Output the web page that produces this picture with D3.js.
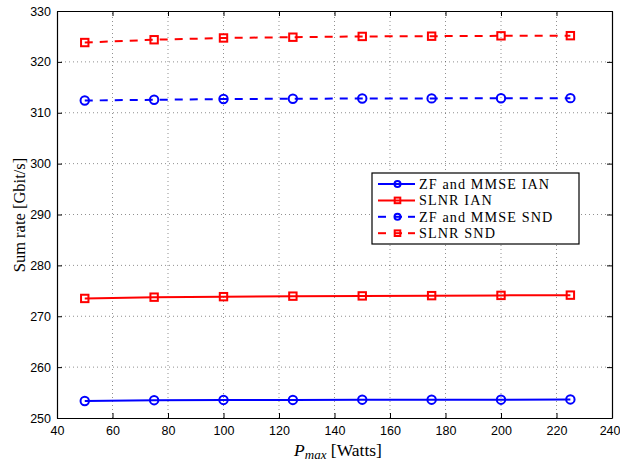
<!DOCTYPE html>
<html><head><meta charset="utf-8">
<script src="https://cdn.jsdelivr.net/npm/d3@7"></script>
<style>body{margin:0;background:#fff} .serif{font-family:"Liberation Serif","Times New Roman",Times,serif}</style>
</head><body>
<script>
const pmax = [50, 75, 100, 125, 150, 175, 200, 225];
const zfIAN = [253.35, 253.5, 253.55, 253.55, 253.6, 253.6, 253.6, 253.65];
const slnrIAN = [273.5, 273.75, 273.85, 273.95, 274.0, 274.05, 274.1, 274.15];
const zfSND = [312.4, 312.55, 312.7, 312.75, 312.8, 312.82, 312.85, 312.87];
const slnrSND = [323.8, 324.35, 324.7, 324.85, 325.0, 325.05, 325.12, 325.15];
const xTicks = [40, 60, 80, 100, 120, 140, 160, 180, 200, 220, 240];
const yTicks = [250, 260, 270, 280, 290, 300, 310, 320, 330];
const seriesNames = ["ZF and MMSE IAN", "SLNR IAN", "ZF and MMSE SND", "SLNR SND"];

const W = 620, H = 463;
const m = {l: 57, r: 8, t: 11, b: 45};
const svg = d3.select("body").append("svg").attr("width", W).attr("height", H);
const x = d3.scaleLinear().domain([40, 240]).range([m.l, W - m.r]);
const y = d3.scaleLinear().domain([250, 330]).range([H - m.b, m.t]);
const x0 = m.l, x1 = W - m.r, y0 = H - m.b, y1 = m.t;

// grid
const g = svg.append("g");
g.selectAll(".vg").data(xTicks.slice(1, -1)).enter().append("line")
  .attr("x1", d => x(d)).attr("x2", d => x(d)).attr("y1", y0).attr("y2", y1)
  .attr("stroke", "#444").attr("stroke-width", 0.6).attr("stroke-dasharray", "1,3");
g.selectAll(".hg").data(yTicks.slice(1, -1)).enter().append("line")
  .attr("y1", d => y(d)).attr("y2", d => y(d)).attr("x1", x0).attr("x2", x1)
  .attr("stroke", "#444").attr("stroke-width", 0.6).attr("stroke-dasharray", "1,3");

// axes
const font = "'Liberation Sans', Arial, sans-serif";
const xa = svg.append("g").attr("transform", `translate(0,${y0})`)
  .call(d3.axisBottom(x).tickValues(xTicks).tickSize(-5).tickPadding(8).tickSizeOuter(0));
const xat = svg.append("g").attr("transform", `translate(0,${y1})`)
  .call(d3.axisTop(x).tickValues(xTicks).tickSize(-5).tickFormat("").tickSizeOuter(0));
const ya = svg.append("g").attr("transform", `translate(${x0},0)`)
  .call(d3.axisLeft(y).tickValues(yTicks).tickSize(-5).tickPadding(6).tickSizeOuter(0));
const yar = svg.append("g").attr("transform", `translate(${x1},0)`)
  .call(d3.axisRight(y).tickValues(yTicks).tickSize(-5).tickFormat("").tickSizeOuter(0));
[xa, xat, ya, yar].forEach(a => {
  a.selectAll(".domain").attr("stroke", "#000").attr("stroke-width", 1.2);
  a.selectAll(".tick line").attr("stroke", "#000").attr("stroke-width", 1);
  a.selectAll("text").attr("font-family", font).attr("font-size", 12.5).attr("fill", "#000");
});
// last x tick label sits at the right edge; keep it inside the window
xa.selectAll(".tick text").filter(d => d === 240).attr("text-anchor", "end").attr("dx", 8);

// series
const series = [
  {vals: zfIAN, color: "#0000ff", dash: null, marker: "circle"},
  {vals: slnrIAN, color: "#ff0000", dash: null, marker: "square"},
  {vals: zfSND, color: "#0000ff", dash: "8,7", marker: "circle"},
  {vals: slnrSND, color: "#ff0000", dash: "8,7", marker: "square"}
];
const line = d3.line().x(d => x(d[0])).y(d => y(d[1]));
function drawMarker(sel, type, color) {
  if (type === "circle") {
    sel.append("circle").attr("r", 4.2).attr("fill", "none")
      .attr("stroke", color).attr("stroke-width", 2);
  } else {
    sel.append("rect").attr("x", -3.7).attr("y", -3.7).attr("width", 7.4).attr("height", 7.4)
      .attr("fill", "none").attr("stroke", color).attr("stroke-width", 2);
  }
}
series.forEach(s => {
  const pts = pmax.map((p, i) => [p, s.vals[i]]);
  svg.append("path").attr("d", line(pts)).attr("fill", "none")
    .attr("stroke", s.color).attr("stroke-width", 2)
    .attr("stroke-dasharray", s.dash);
  pts.forEach(p => {
    const mg = svg.append("g").attr("transform", `translate(${x(p[0])},${y(p[1])})`);
    drawMarker(mg, s.marker, s.color);
  });
});

// legend
const lg = svg.append("g").attr("transform", "translate(372,173)");
lg.append("rect").attr("width", 207).attr("height", 71).attr("fill", "#fff")
  .attr("stroke", "#000").attr("stroke-width", 1.2);
series.forEach((s, i) => {
  const cy = 11 + i * 16.4;
  if (s.dash) {
    [[6, 14], [22, 30], [36, 43]].forEach(seg => {
      lg.append("line").attr("x1", seg[0]).attr("x2", seg[1]).attr("y1", cy).attr("y2", cy)
        .attr("stroke", s.color).attr("stroke-width", 2);
    });
  } else {
    lg.append("line").attr("x1", 6).attr("x2", 43).attr("y1", cy).attr("y2", cy)
      .attr("stroke", s.color).attr("stroke-width", 2);
  }
  const mg = lg.append("g").attr("transform", `translate(25.5,${cy})`);
  if (s.marker === "circle") {
    mg.append("circle").attr("r", 3).attr("fill", "none").attr("stroke", s.color).attr("stroke-width", 2);
  } else {
    mg.append("rect").attr("x", -2.8).attr("y", -2.8).attr("width", 5.6).attr("height", 5.6)
      .attr("fill", "none").attr("stroke", s.color).attr("stroke-width", 2);
  }
  lg.append("text").attr("class", "serif").attr("x", 47).attr("y", cy + 5).text(seriesNames[i])
    .attr("font-size", 14.2).attr("letter-spacing", 1.1).attr("fill", "#000");
});

// axis labels
svg.append("text").attr("class", "serif").attr("transform", `translate(25,215) rotate(-90)`)
  .attr("text-anchor", "middle").attr("font-size", 16.5).text("Sum rate [Gbit/s]");
const xl = svg.append("text").attr("class", "serif").attr("x", 338).attr("y", 456)
  .attr("text-anchor", "middle").attr("font-size", 17.5);
xl.append("tspan").attr("font-style", "italic").text("P");
xl.append("tspan").attr("font-style", "italic").attr("font-size", 13).attr("dy", 3).text("max");
xl.append("tspan").attr("dy", -3).text(" [Watts]");
</script>
</body></html>
